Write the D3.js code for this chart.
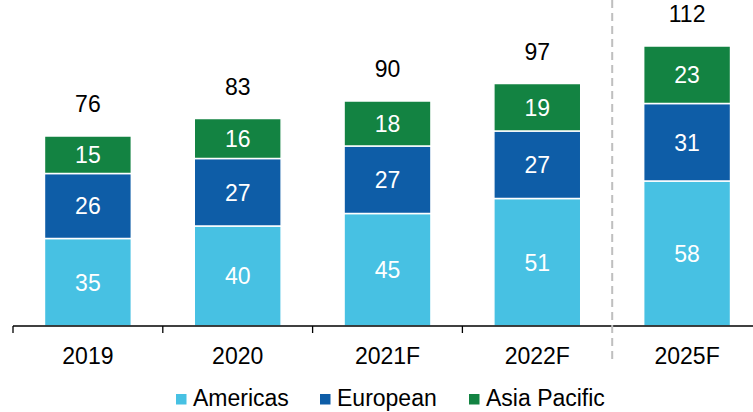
<!DOCTYPE html>
<html>
<head>
<meta charset="utf-8">
<script src="https://cdn.jsdelivr.net/npm/d3@7"></script>
<style>
  html, body { margin: 0; padding: 0; background: #fff; }
  svg { display: block; font-family: "Liberation Sans", Arial, sans-serif; }
</style>
</head>
<body>
<svg id="chart" width="753" height="412"></svg>
<script>
// Market size by region (stacked), actuals and forecasts
const categories = ["2019", "2020", "2021F", "2022F", "2025F"];
const seriesNames = ["Americas", "European", "Asia Pacific"];
const americas = [35, 40, 45, 51, 58];
const european = [26, 27, 27, 27, 31];
const asiaPacific = [15, 16, 18, 19, 23];
const totals = [76, 83, 90, 97, 112];
const colors = ["#47C1E3", "#0E5DA7", "#138342"];

const svg = d3.select("#chart");
const W = 753, H = 412;
const margin = { left: 13, right: -9, top: 26, bottom: 86 };
const FS = 23;

const rows = categories.map((c, i) => ({
  cat: c,
  "Americas": americas[i],
  "European": european[i],
  "Asia Pacific": asiaPacific[i],
  total: totals[i]
}));

const x = d3.scaleBand()
  .domain(categories)
  .range([margin.left, W - margin.right])
  .paddingInner(0.42)
  .paddingOuter(0.21);

const y = d3.scaleLinear()
  .domain([0, 120])
  .range([H - margin.bottom, margin.top]);

const stack = d3.stack().keys(seriesNames);
const layers = stack(rows);

// stacked segments
const g = svg.append("g");
layers.forEach((layer, li) => {
  g.selectAll(null)
    .data(layer)
    .join("rect")
    .attr("x", d => x(d.data.cat))
    .attr("y", d => y(d[1]))
    .attr("width", x.bandwidth())
    .attr("height", d => y(d[0]) - y(d[1]))
    .attr("fill", colors[li])
    .attr("stroke", "#fff")
    .attr("stroke-width", 1.5);

  g.selectAll(null)
    .data(layer)
    .join("text")
    .attr("x", d => x(d.data.cat) + x.bandwidth() / 2)
    .attr("y", d => (y(d[0]) + y(d[1])) / 2)
    .attr("dy", "0.36em")
    .attr("text-anchor", "middle")
    .attr("fill", "#fff")
    .attr("font-size", FS)
    .text(d => d[1] - d[0]);
});

// totals above each bar
g.selectAll(null)
  .data(rows)
  .join("text")
  .attr("x", d => x(d.cat) + x.bandwidth() / 2)
  .attr("y", d => y(d.total) - 24)
  .attr("text-anchor", "middle")
  .attr("fill", "#000")
  .attr("font-size", FS)
  .text(d => d.total);

// category axis with boundary ticks
const baseY = y(0);
const step = x.step();
const boundaries = d3.range(categories.length).map(i => margin.left + i * step);
svg.append("line")
  .attr("x1", margin.left).attr("x2", W)
  .attr("y1", baseY).attr("y2", baseY)
  .attr("stroke", "#000").attr("stroke-width", 1.3);
svg.selectAll(null)
  .data(boundaries.slice(0, 4))
  .join("line")
  .attr("x1", d => d).attr("x2", d => d)
  .attr("y1", baseY).attr("y2", baseY + 7)
  .attr("stroke", "#000").attr("stroke-width", 1.3);

svg.selectAll(null)
  .data(categories)
  .join("text")
  .attr("x", d => x(d) + x.bandwidth() / 2)
  .attr("y", baseY + 38)
  .attr("text-anchor", "middle")
  .attr("font-size", FS)
  .attr("fill", "#000")
  .text(d => d);

// divider between near-term and long-range forecast
const divX = boundaries[4];
svg.append("line")
  .attr("x1", divX).attr("x2", divX)
  .attr("y1", 0).attr("y2", baseY + 37)
  .attr("stroke", "#bfbfbf")
  .attr("stroke-width", 2)
  .attr("stroke-dasharray", "8,5");

// legend
const legendItems = [
  { name: "Americas", x: 176 },
  { name: "European", x: 320 },
  { name: "Asia Pacific", x: 469 }
];
const lg = svg.append("g");
legendItems.forEach((it, i) => {
  lg.append("rect")
    .attr("x", it.x).attr("y", 394)
    .attr("width", 10.5).attr("height", 10.5)
    .attr("fill", colors[i]);
  lg.append("text")
    .attr("x", it.x + 17).attr("y", 406)
    .attr("font-size", FS)
    .attr("fill", "#000")
    .text(it.name);
});
</script>
</body>
</html>
